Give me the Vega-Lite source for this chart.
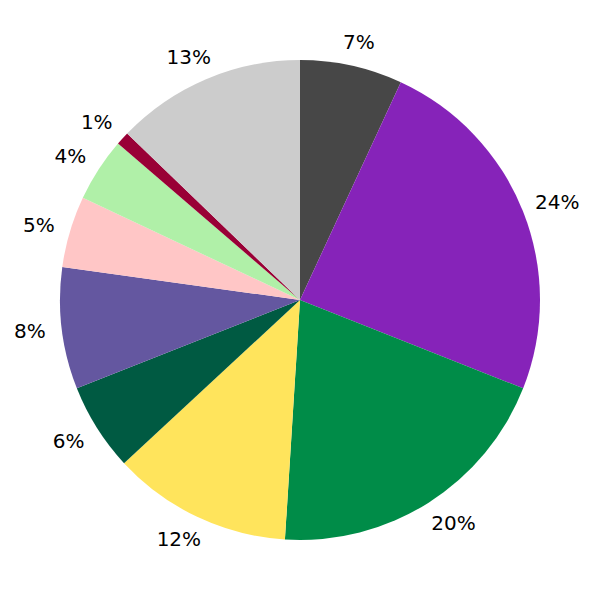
{
  "$schema": "https://vega.github.io/schema/vega-lite/v6.json",
  "width": 600,
  "height": 600,
  "padding": 0,
  "autosize": {"type": "fit", "contains": "padding"},
  "background": "white",
  "config": {"view": {"stroke": null}},
  "data": {
    "values": [
      {"i": 1, "cat": "A", "value": 0.069},
      {"i": 2, "cat": "B", "value": 0.241},
      {"i": 3, "cat": "C", "value": 0.200},
      {"i": 4, "cat": "D", "value": 0.121},
      {"i": 5, "cat": "E", "value": 0.059},
      {"i": 6, "cat": "F", "value": 0.082},
      {"i": 7, "cat": "G", "value": 0.048},
      {"i": 8, "cat": "H", "value": 0.043},
      {"i": 9, "cat": "I", "value": 0.009},
      {"i": 10, "cat": "J", "value": 0.128}
    ]
  },
  "encoding": {
    "theta": {"field": "value", "type": "quantitative", "stack": true},
    "order": {"field": "i", "type": "quantitative"},
    "color": {
      "field": "cat",
      "type": "nominal",
      "legend": null,
      "scale": {
        "domain": ["A", "B", "C", "D", "E", "F", "G", "H", "I", "J"],
        "range": ["#474747", "#8623b9", "#008c48", "#ffe45c", "#005a42", "#6457a0", "#ffc6c6", "#b0f0a8", "#990036", "#cccccc"]
      }
    }
  },
  "layer": [
    {"mark": {"type": "arc", "outerRadius": 240}},
    {
      "mark": {"type": "text", "radius": 264, "dx": 2, "dy": 1, "font": "DejaVu Sans", "fontSize": 20, "align": "center", "baseline": "middle"},
      "encoding": {
        "text": {"field": "value", "type": "quantitative", "format": ".0%"},
        "color": {"value": "black"},
        "opacity": {"condition": {"test": "datum.i == 1", "value": 1}, "value": 0}
      }
    },
    {
      "mark": {"type": "text", "radius": 264, "dx": 12, "dy": 1, "font": "DejaVu Sans", "fontSize": 20, "align": "center", "baseline": "middle"},
      "encoding": {
        "text": {"field": "value", "type": "quantitative", "format": ".0%"},
        "color": {"value": "black"},
        "opacity": {"condition": {"test": "datum.i == 2 || datum.i == 3", "value": 1}, "value": 0}
      }
    },
    {
      "mark": {"type": "text", "radius": 264, "dx": -8, "dy": 1, "font": "DejaVu Sans", "fontSize": 20, "align": "center", "baseline": "middle"},
      "encoding": {
        "text": {"field": "value", "type": "quantitative", "format": ".0%"},
        "color": {"value": "black"},
        "opacity": {"condition": {"test": "datum.i >= 4", "value": 1}, "value": 0}
      }
    }
  ]
}
